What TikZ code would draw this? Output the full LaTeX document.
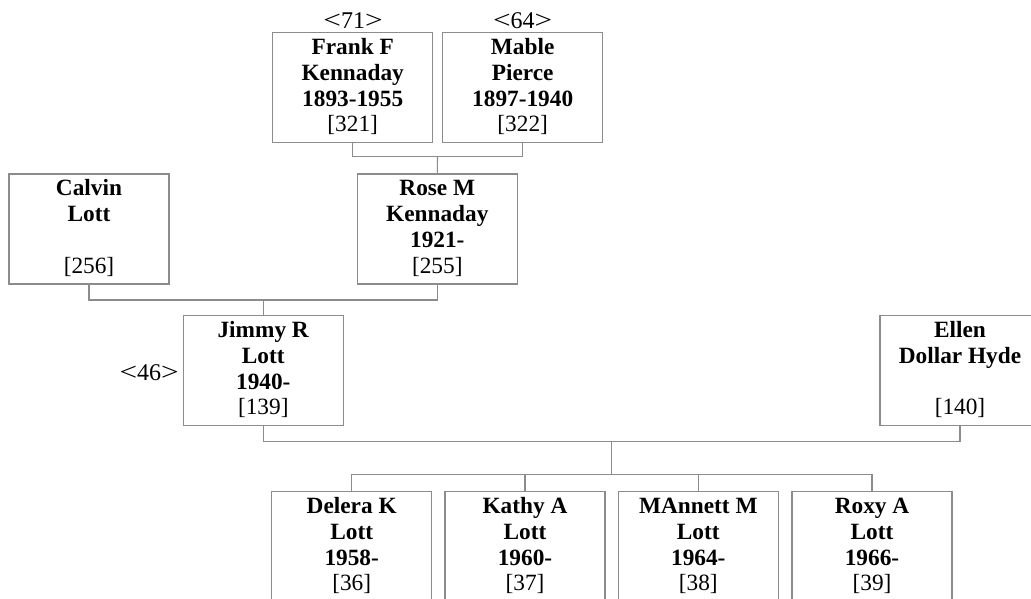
\documentclass[tikz,border=0pt]{standalone}
\usepackage{graphicx}
\usepackage{fontspec}
\setmainfont{Liberation Serif}
\newcommand\famtext[4]{\begin{tabular}{@{}c@{}}\rule{0pt}{22.3pt}\textbf{#1}\\\textbf{#2}\\\textbf{#3}\\{}#4\end{tabular}}
\newcommand\genlab[1]{\scalebox{1.3}[1.05]{<}#1\scalebox{1.3}[1.05]{>}}
\begin{document}
\begin{tikzpicture}[x=1pt,y=1pt,
  pbox/.style={draw=black!45, line width=1.2pt, minimum width=160pt, minimum height=110pt, inner sep=0pt},
  ptext/.style={anchor=north, inner sep=0pt, font=\fontsize{23.3}{25.7}\selectfont},
  gen/.style={anchor=base, inner sep=0pt, font=\fontsize{24}{26}\selectfont},
  conn/.style={draw=black!45, line width=1.1pt}]
\useasboundingbox (0,0) rectangle (1031,-598);
\clip (0,0) rectangle (1031,-598);
% boxes
\node[pbox] (frank) at (352.7,-87.7) {};
\node[pbox] (mable) at (522.7,-87.7) {};
\node[pbox] (calvin) at (89,-229) {};
\node[pbox] (rose) at (437.3,-229) {};
\node[pbox] (jimmy) at (263.3,-370.7) {};
\node[pbox] (ellen) at (960,-370.7) {};
\node[pbox] (delera) at (351.7,-546.7) {};
\node[pbox] (kathy) at (525,-546.7) {};
\node[pbox] (mannett) at (698.3,-546.7) {};
\node[pbox] (roxy) at (872,-546.7) {};
% texts
\node[ptext] (frankT) at (frank.north) {\famtext{Frank F}{Kennaday}{1893-1955}{[321]}};
\node[ptext] (mableT) at (mable.north) {\famtext{Mable}{Pierce}{1897-1940}{[322]}};
\node[ptext] (calvinT) at (calvin.north) {\famtext{Calvin}{Lott}{}{[256]}};
\node[ptext] (roseT) at (rose.north) {\famtext{Rose M}{Kennaday}{1921-}{[255]}};
\node[ptext] (jimmyT) at (jimmy.north) {\famtext{Jimmy R}{Lott}{1940-}{[139]}};
\node[ptext] (ellenT) at (ellen.north) {\famtext{Ellen}{Dollar Hyde}{}{[140]}};
\node[ptext] (deleraT) at (delera.north) {\famtext{Delera K}{Lott}{1958-}{[36]}};
\node[ptext] (kathyT) at (kathy.north) {\famtext{Kathy A}{Lott}{1960-}{[37]}};
\node[ptext] (mannettT) at (mannett.north) {\famtext{MAnnett M}{Lott}{1964-}{[38]}};
\node[ptext] (roxyT) at (roxy.north) {\famtext{Roxy A}{Lott}{1966-}{[39]}};
% generation labels
\node[gen] (g71) at (353,-28.3) {\genlab{71}};
\node[gen] (g64) at (522.7,-28.3) {\genlab{64}};
\node[gen] (g46) at (149.2,-380) {\genlab{46}};
% couple connectors
\coordinate (m1) at (437.5,-156.7);
\coordinate (m2) at (263.3,-300);
\coordinate (m3) at (611.7,-441.5);
\coordinate (c3) at (611.7,-474.3);
\draw[conn] (frank.south) |- (m1) -| (mable.south);
\draw[conn] (m1) -- (rose.north);
\draw[conn] (calvin.south) |- (m2) -| (rose.south);
\draw[conn] (m2) -- (jimmy.north);
\draw[conn] (jimmy.south) |- (m3) -| (ellen.south);
\draw[conn] (m3) -- (c3);
\draw[conn] (delera.north) |- (c3) -| (roxy.north);
\draw[conn] (kathy.north) -- (kathy.north |- c3);
\draw[conn] (mannett.north) -- (mannett.north |- c3);
\end{tikzpicture}
\end{document}
